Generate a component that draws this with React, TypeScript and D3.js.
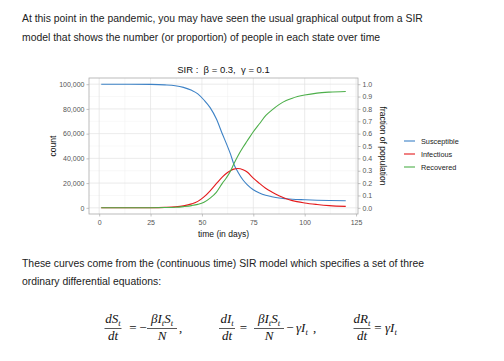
import React, { Component, createRef } from "react";
import * as d3 from "d3";

// time in days, counts out of N = 100,000
const days = [1, 15, 25, 32, 37, 41, 45, 48, 51, 54, 57, 60, 62, 64, 65.5, 67.5, 70, 72, 75, 78, 81, 84, 87.5, 91, 94, 100, 106, 112, 120];
const susceptible = [99999, 99960, 99840, 99450, 98750, 97400, 95000, 92200, 87200, 81000, 72000, 59500, 51500, 43000, 35500, 29000, 22500, 18800, 14600, 12000, 10200, 9000, 7900, 7300, 6900, 6500, 6150, 5900, 5700];
const infectious = [1, 25, 100, 350, 800, 1600, 3200, 5200, 8800, 13800, 19500, 25000, 28000, 30200, 31300, 31800, 30800, 29000, 24000, 19800, 15800, 12800, 9800, 7400, 5800, 3900, 2700, 1800, 1200];
const recovered = [0, 15, 60, 200, 450, 1000, 1800, 2800, 4500, 7800, 12500, 20000, 24500, 30000, 35500, 42000, 49000, 54000, 61500, 68000, 74500, 79000, 83500, 86800, 88700, 91200, 92800, 93600, 94100];

const seriesNames = ["Susceptible", "Infectious", "Recovered"];
const seriesColors = ["#3d82c6", "#e41a1c", "#4daf4a"];

const dayTicks = [0, 25, 50, 75, 100, 125];
const countTicks = [0, 20000, 40000, 60000, 80000, 100000];
const fractionTicks = [0, 0.1, 0.2, 0.3, 0.4, 0.5, 0.6, 0.7, 0.8, 0.9, 1.0];

const introLines = [
  "At this point in the pandemic, you may have seen the usual graphical output from a SIR",
  "model that shows the number (or proportion) of people in each state over time",
];
const outroLines = [
  "These curves come from the (continuous time) SIR model which specifies a set of three",
  "ordinary differential equations:",
];

const SANS = "'Liberation Sans', Arial, sans-serif";
const SERIF = "'Liberation Serif', 'Times New Roman', serif";

function mathText(parent, x, y, str, anchor) {
  let t = parent.append("text")
    .attr("x", x)
    .attr("y", y)
    .attr("text-anchor", anchor)
    .attr("font-family", SERIF)
    .attr("font-style", "italic")
    .attr("font-size", 13)
    .attr("fill", "#111");
  let pieces = str.split(/_(.)/);
  let down = false;
  pieces.forEach((p, i) => {
    if (p === "") return;
    let sub = i % 2 === 1;
    let dy = sub ? 2.5 : (down ? -2.5 : 0);
    t.append("tspan").attr("dy", dy).attr("font-size", sub ? 8.5 : 13).text(p);
    down = sub;
  });
  return t;
}

function plainText(parent, x, y, str, anchor) {
  return parent.append("text")
    .attr("x", x)
    .attr("y", y)
    .attr("text-anchor", anchor)
    .attr("font-family", SERIF)
    .attr("font-size", 13)
    .attr("fill", "#111")
    .text(str);
}

class Chart extends Component {
  myRef = createRef<SVGSVGElement>();

  componentDidMount() {
    this.drawChart();
  }

  drawChart() {
    let svg = d3.select(this.myRef.current);
    svg.selectAll("*").remove();

    svg.append("rect").attr("width", 504).attr("height", 361).attr("fill", "#fff");

    // page text
    introLines.forEach((s, i) => {
      svg.append("text")
        .attr("x", 22).attr("y", 22 + i * 18.7)
        .attr("font-family", SANS).attr("font-size", 10.4).attr("fill", "#222")
        .text(s);
    });
    outroLines.forEach((s, i) => {
      svg.append("text")
        .attr("x", 22).attr("y", 266.7 + i * 18.3)
        .attr("font-family", SANS).attr("font-size", 10.4).attr("fill", "#222")
        .text(s);
    });

    // chart panel
    let x0 = 89, x1 = 358, y0 = 78, y1 = 214;
    let x = d3.scaleLinear().domain([1 - 5.95, 120 + 5.95]).range([x0, x1]);
    let y = d3.scaleLinear().domain([-5000, 105000]).range([y1, y0]);
    let yFrac = d3.scaleLinear().domain([-0.05, 1.05]).range([y1, y0]);

    let grid = svg.append("g");
    let minorX = d3.pairs(dayTicks).map(p => (p[0] + p[1]) / 2);
    let minorY = d3.pairs(countTicks).map(p => (p[0] + p[1]) / 2);
    grid.selectAll(".mx").data(minorX).enter().append("line")
      .attr("x1", d => x(d)).attr("x2", d => x(d)).attr("y1", y0).attr("y2", y1)
      .attr("stroke", "#f0f0f0").attr("stroke-width", 0.5);
    grid.selectAll(".my").data(minorY).enter().append("line")
      .attr("x1", x0).attr("x2", x1).attr("y1", d => y(d)).attr("y2", d => y(d))
      .attr("stroke", "#f0f0f0").attr("stroke-width", 0.5);
    grid.selectAll(".gx").data(dayTicks).enter().append("line")
      .attr("x1", d => x(d)).attr("x2", d => x(d)).attr("y1", y0).attr("y2", y1)
      .attr("stroke", "#e2e2e2").attr("stroke-width", 0.7);
    grid.selectAll(".gy").data(countTicks).enter().append("line")
      .attr("x1", x0).attr("x2", x1).attr("y1", d => y(d)).attr("y2", d => y(d))
      .attr("stroke", "#e2e2e2").attr("stroke-width", 0.7);

    let line = d3.line<number>()
      .x((d, i) => x(days[i]))
      .y(d => y(d))
      .curve(d3.curveMonotoneX);

    [susceptible, infectious, recovered].forEach((vals, k) => {
      svg.append("path")
        .attr("d", line(vals))
        .attr("fill", "none")
        .attr("stroke", seriesColors[k])
        .attr("stroke-width", 1.1);
    });

    svg.append("rect")
      .attr("x", x0).attr("y", y0).attr("width", x1 - x0).attr("height", y1 - y0)
      .attr("fill", "none").attr("stroke", "#ababab").attr("stroke-width", 0.8);

    // axes
    let styleAxis = g => {
      g.attr("font-family", SANS).attr("font-size", 7);
      g.select(".domain").remove();
      g.selectAll("line").attr("stroke", "#ababab").attr("stroke-width", 0.7);
      g.selectAll("text").attr("fill", "#555");
    };
    svg.append("g").attr("transform", `translate(${x0},0)`)
      .call(d3.axisLeft(y).tickValues(countTicks).tickFormat(d3.format(",")).tickSize(2.5).tickPadding(2))
      .call(styleAxis);
    svg.append("g").attr("transform", `translate(${x1},0)`)
      .call(d3.axisRight(yFrac).tickValues(fractionTicks).tickFormat(d3.format(".1f")).tickSize(2.5).tickPadding(2))
      .call(styleAxis);
    svg.append("g").attr("transform", `translate(0,${y1})`)
      .call(d3.axisBottom(x).tickValues(dayTicks).tickSize(2.5).tickPadding(3.5))
      .call(styleAxis);

    // titles
    svg.append("text")
      .attr("x", (x0 + x1) / 2).attr("y", 72.5).attr("text-anchor", "middle")
      .attr("font-family", SANS).attr("font-size", 9.5).attr("fill", "#111")
      .attr("xml:space", "preserve")
      .text("SIR :  β = 0.3,  γ = 0.1");
    svg.append("text")
      .attr("x", (x0 + x1) / 2).attr("y", 237).attr("text-anchor", "middle")
      .attr("font-family", SANS).attr("font-size", 8.5).attr("fill", "#111")
      .text("time (in days)");
    svg.append("text")
      .attr("transform", `translate(53,${(y0 + y1) / 2}) rotate(-90)`)
      .attr("text-anchor", "middle").attr("dominant-baseline", "central")
      .attr("font-family", SANS).attr("font-size", 8.5).attr("fill", "#111")
      .text("count");
    svg.append("text")
      .attr("transform", `translate(383,${(y0 + y1) / 2}) rotate(90)`)
      .attr("text-anchor", "middle").attr("dominant-baseline", "central")
      .attr("font-family", SANS).attr("font-size", 8.5).attr("fill", "#111")
      .text("fraction of population");

    // legend
    let legend = svg.append("g");
    seriesNames.forEach((name, k) => {
      let ly = 141 + k * 13;
      legend.append("line")
        .attr("x1", 404).attr("x2", 415).attr("y1", ly).attr("y2", ly)
        .attr("stroke", seriesColors[k]).attr("stroke-width", 1.1);
      legend.append("text")
        .attr("x", 421).attr("y", ly).attr("dominant-baseline", "central")
        .attr("font-family", SANS).attr("font-size", 7.3).attr("fill", "#222")
        .text(name);
    });

    // equations
    let eq = svg.append("g");
    let numY = 323, denY = 340, barY = 328.5, midY = 332;
    let fraction = (cx, half, top, bottom) => {
      mathText(eq, cx, numY, top, "middle");
      mathText(eq, cx, denY, bottom, "middle");
      eq.append("line")
        .attr("x1", cx - half).attr("x2", cx + half).attr("y1", barY).attr("y2", barY)
        .attr("stroke", "#111").attr("stroke-width", 0.7);
    };
    fraction(113, 8.5, "dS_t", "dt");
    plainText(eq, 133, midY, "=", "middle");
    plainText(eq, 143, midY, "−", "middle");
    fraction(162, 15, "βI_tS_t", "N");
    plainText(eq, 179, midY, ",", "start");

    fraction(227, 8, "dI_t", "dt");
    plainText(eq, 243.5, midY, "=", "middle");
    fraction(269, 15, "βI_tS_t", "N");
    plainText(eq, 290, midY, "−", "middle");
    mathText(eq, 296, midY, "γI_t", "start");
    plainText(eq, 313, midY, ",", "start");

    fraction(362, 8.5, "dR_t", "dt");
    plainText(eq, 378, midY, "=", "middle");
    mathText(eq, 385, midY, "γI_t", "start");
  }

  render() {
    return (
      <svg
        ref={this.myRef}
        width={504}
        height={361}
        style={{ position: "absolute", left: 0, top: 0, display: "block" }}
      />
    );
  }
}

export default function App() {
  return <Chart />;
}
